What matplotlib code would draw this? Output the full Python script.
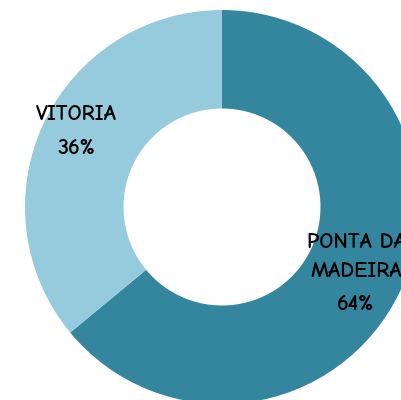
import matplotlib
matplotlib.use("Agg")
import matplotlib.pyplot as plt

categories = ["PONTA DA\nMADEIRA", "VITORIA"]
values = [64, 36]
colors = ["#33869E", "#96CBDD"]

fig = plt.figure(figsize=(4.01, 4.0), dpi=100)
ax = fig.add_axes([0, 0, 1, 1])

cx, cy, r = 222, 193, 197
wedges, _ = ax.pie(values, colors=colors, startangle=90, counterclock=False,
                   center=(cx, cy), radius=r, frame=True,
                   wedgeprops=dict(width=r * 0.5, linewidth=0))
ax.set_xlim(0, 401)
ax.set_ylim(0, 400)
ax.set_aspect("equal")
ax.axis("off")

font = dict(fontsize=16, fontweight="bold", color="black",
            family=["Comic Neue", "Lato", "DejaVu Sans"], ha="center", va="center")
label_pos = [(356, 400 - 257), (76, 400 - 114)]
pct_pos = [(356, 400 - 304), (76, 400 - 148)]
for cat, v, (lx, ly), (px, py) in zip(categories, values, label_pos, pct_pos):
    ax.text(lx, ly, cat, linespacing=1.65, **font)
    ax.text(px, py, f"{v}%", **font)

fig.savefig("out.png", dpi=100)
